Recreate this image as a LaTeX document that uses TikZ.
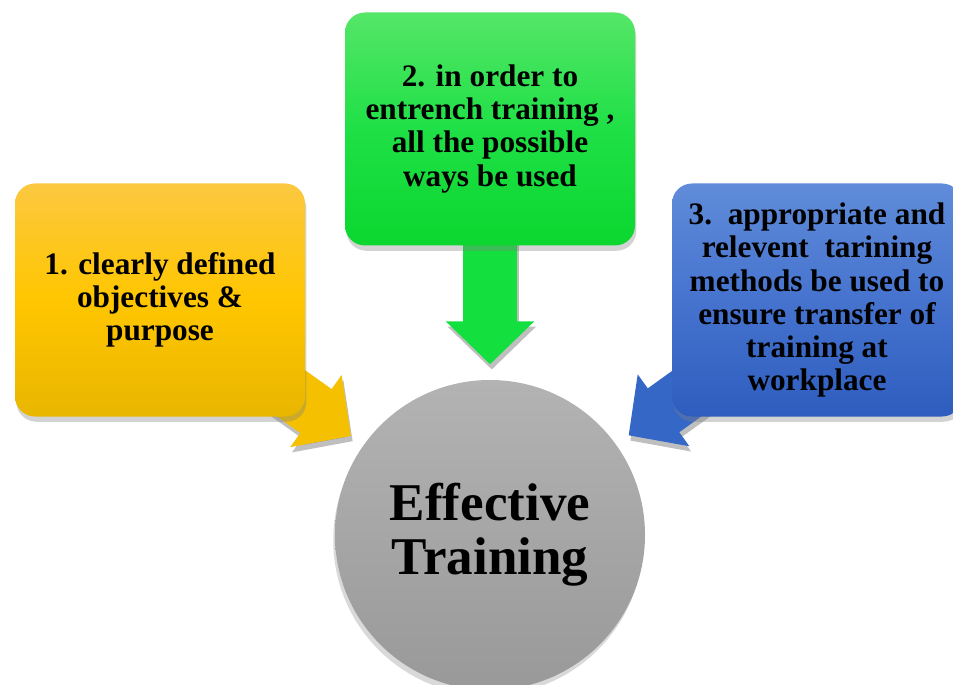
\documentclass[tikz,border=0pt]{standalone}
\usepackage{fontspec}
\setmainfont{Liberation Serif}
\usetikzlibrary{arrows.meta}
\usetikzlibrary{shadows}
\usetikzlibrary{backgrounds}

\definecolor{ytop}{HTML}{FCC840}
\definecolor{ymid}{HTML}{FFC600}
\definecolor{ybot}{HTML}{E9B600}
\definecolor{gtop}{HTML}{55E668}
\definecolor{gmid}{HTML}{1FE046}
\definecolor{gbot}{HTML}{0BD72F}
\definecolor{btop}{HTML}{608CDA}
\definecolor{bmid}{HTML}{4673CE}
\definecolor{bbot}{HTML}{2E5DBF}
\definecolor{ctop}{HTML}{B3B3B3}
\definecolor{cbot}{HTML}{999999}
\definecolor{yarrow}{HTML}{F4C000}
\definecolor{garrow}{HTML}{13E03F}
\definecolor{barrow}{HTML}{3567C7}

\tikzset{
  box/.style={rounded corners=0.2cm, minimum width=2.9cm, minimum height=2.33cm,
    inner sep=0pt, align=center, font=\fontsize{8.9}{9.4}\selectfont\bfseries,
    drop shadow={shadow xshift=0.4pt, shadow yshift=-1.5pt, opacity=0.35}},
  hub/.style={circle, minimum size=3.1cm, inner sep=0pt, align=center,
    top color=ctop, bottom color=cbot,
    font=\fontsize{15.1}{15.4}\selectfont\bfseries,
    drop shadow={shadow xshift=-0.5pt, shadow yshift=-1.5pt, opacity=0.3}},
  fatarrow/.style={line width=0.54cm, -{Triangle[length=0.43cm,width=0.86cm]},
    shorten >=0.15cm},
  arrowshadow/.style={fatarrow, black, opacity=0.25,
    transform canvas={xshift=0.5pt, yshift=-1.5pt}}
}

\begin{document}
\begin{tikzpicture}
\useasboundingbox (0,0) rectangle (9.53,6.84);
\node[box, top color=ytop, bottom color=ybot, middle color=ymid] (obj) at (1.60,3.84)
  {1. clearly defined\\objectives \&\\purpose};
\node[box, top color=gtop, bottom color=gbot, middle color=gmid] (ways) at (4.90,5.55)
  {2. in order to\\entrench training ,\\all the possible\\ways be used};
\node[box, top color=btop, bottom color=bbot, middle color=bmid] (meth) at (8.17,3.84)
  {3.\ \ appropriate and\\relevent\ \ tarining\\methods be used to\\ensure transfer of\\training at\\workplace};
\node[hub] (eff) at (4.90,1.49) {Effective\\Training};
\begin{pgfonlayer}{background}
\draw[arrowshadow] (obj.center) -- (eff);
\draw[arrowshadow] (ways.center) -- (eff);
\draw[arrowshadow] (meth.center) -- (eff);
\draw[fatarrow, yarrow] (obj.center) -- (eff);
\draw[fatarrow, garrow] (ways.center) -- (eff);
\draw[fatarrow, barrow] (meth.center) -- (eff);
\end{pgfonlayer}
\end{tikzpicture}
\end{document}
